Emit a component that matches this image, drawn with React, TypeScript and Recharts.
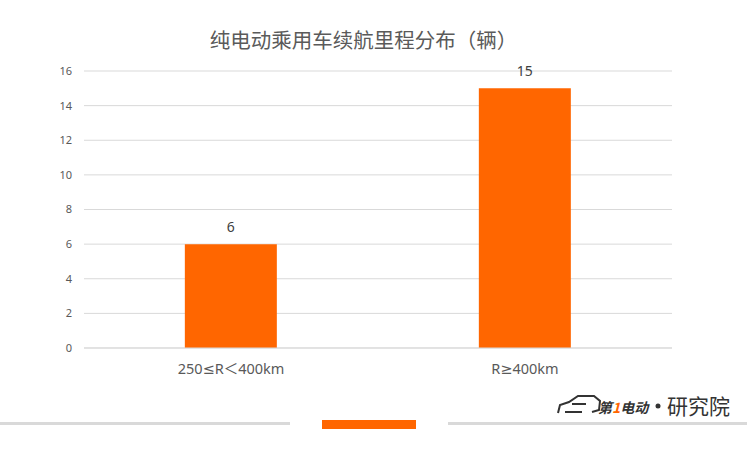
import React from 'react';
import { BarChart, Bar, XAxis, YAxis, CartesianGrid, LabelList } from 'recharts';

const categories = ['250≤R＜400km', 'R≥400km'];
const counts = [6, 15];
const yTicks = [0, 2, 4, 6, 8, 10, 12, 14, 16];
const title = '纯电动乘用车续航里程分布（辆）';

const data = categories.map((c, i) => ({ name: c, value: counts[i] }));

const FONT = '"Microsoft YaHei", "Noto Sans CJK SC", "Noto Sans", sans-serif';
const LATIN = '"Noto Sans", "DejaVu Sans", "Noto Sans CJK SC", sans-serif';
const ORANGE = '#FF6600';

export default function App() {
  return (
    <div style={{ position: 'absolute', left: 0, top: 0, width: 747, height: 453, background: '#fff', fontFamily: FONT }}>
      <div style={{ position: 'absolute', left: 0, top: 26, width: 727, textAlign: 'center', fontSize: 20.5, color: '#5a5a5a', lineHeight: '26px' }}>
        {title}
      </div>
      <BarChart width={747} height={453} data={data} margin={{ top: 71, right: 75, bottom: 75, left: 0 }} barCategoryGap="34.3%">
        <CartesianGrid vertical={false} stroke="#d9d9d9" />
        <XAxis
          dataKey="name"
          axisLine={{ stroke: '#d9d9d9' }}
          tickLine={false}
          tickSize={0}
          tickMargin={16}
          height={30}
          tick={{ fill: '#595959', fontSize: 14.5, fontFamily: LATIN }}
        />
        <YAxis
          domain={[0, 16]}
          ticks={yTicks}
          width={84}
          axisLine={false}
          tickLine={false}
          tickSize={0}
          tickMargin={12}
          tick={{ fill: '#595959', fontSize: 11, fontFamily: LATIN }}
        />
        <Bar dataKey="value" fill={ORANGE} isAnimationActive={false}>
          <LabelList dataKey="value" position="top" offset={12} fill="#404040" fontSize={14} fontFamily={LATIN} />
        </Bar>
      </BarChart>
      <svg width={747} height={453} style={{ position: 'absolute', left: 0, top: 0, pointerEvents: 'none' }}>
        <rect x={0} y={422} width={290} height={3} fill="#d9d9d9" />
        <rect x={448} y={422} width={299} height={3} fill="#d9d9d9" />
        <rect x={322} y={420} width={94} height={9} fill={ORANGE} />
        <path d="M558 413 L560 405 L569 402 L578 396 L594 396 L600 401 L599 410 L592 412 M565 412 L582 412 M572 404 L586 404" fill="none" stroke="#333" strokeWidth={2} />
        <text x={598} y={413} fontSize={14} fontWeight="bold" fontStyle="italic" fill="#333" fontFamily={FONT}>第<tspan fill={ORANGE}>1</tspan>电动</text>
        <circle cx={658} cy={406} r={2.5} fill="#333" />
        <text x={667} y={414} fontSize={21} fill="#333" fontFamily={FONT}>研究院</text>
      </svg>
    </div>
  );
}
